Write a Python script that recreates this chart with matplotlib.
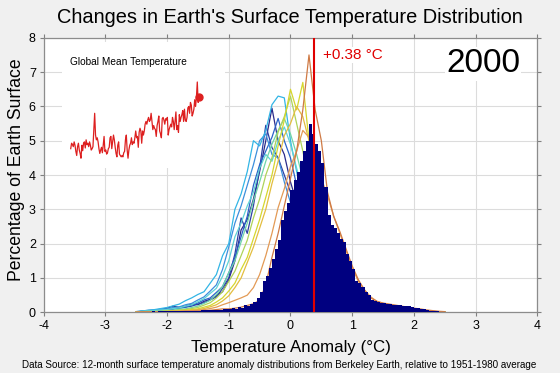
import numpy as np
import matplotlib
matplotlib.use("Agg")
import matplotlib.pyplot as plt

plt.rcParams['font.family'] = ['Liberation Sans', 'DejaVu Sans']
plt.rcParams['axes.unicode_minus'] = False

# ---------------- data ----------------
year_label = "2000"
mean_anomaly = 0.38

# 2000 histogram: 0.05 degC bins starting at -3.00 (percent of surface)
hist_start = -3.0
hist_width = 0.05
hist_2000 = [
    0.005, 0.005, 0.01, 0.005, 0.01, 0.01, 0.01, 0.015, 0.01, 0.015,      # -3.00 .. -2.55
    0.015, 0.02, 0.015, 0.02, 0.02, 0.025, 0.02, 0.025, 0.03, 0.025,      # -2.50 .. -2.05
    0.03, 0.03, 0.035, 0.03, 0.04, 0.035, 0.04, 0.045, 0.04, 0.05,        # -2.00 .. -1.55
    0.05, 0.055, 0.06, 0.06, 0.07, 0.065, 0.075, 0.08, 0.085, 0.09,       # -1.50 .. -1.05
    0.1, 0.12, 0.11, 0.15, 0.14, 0.2, 0.18, 0.25, 0.3, 0.42,              # -1.00 .. -0.55
    0.6, 0.9, 1.05, 1.3, 1.55, 1.85, 2.1, 2.7, 2.95, 3.2,                 # -0.50 .. -0.05
    3.55, 3.85, 4.1, 4.4, 4.7, 5.0, 5.5, 5.2, 4.9, 4.7,                   #  0.00 ..  0.45
    4.35, 3.65, 2.85, 2.55, 2.45, 2.3, 2.15, 2.05, 1.7, 1.5,              #  0.50 ..  0.95
    1.25, 0.9, 0.85, 0.75, 0.6, 0.5, 0.35, 0.32, 0.3, 0.28,               #  1.00 ..  1.45
    0.27, 0.25, 0.24, 0.22, 0.22, 0.2, 0.19, 0.18, 0.17, 0.16,            #  1.50 ..  1.95
    0.14, 0.12, 0.1, 0.09, 0.07, 0.05, 0.04, 0.03, 0.02, 0.015,           #  2.00 ..  2.45
    0.015, 0.01, 0.01, 0.01, 0.01, 0.005, 0.005, 0.005, 0.005, 0.005,     #  2.50 ..  2.95
    0.005, 0.005, 0.0, 0.005, 0.0, 0.0,                                   #  3.00 ..  3.25
]

# earlier years' distributions, sampled every 0.1 degC from -2.5 to 2.5
curve_temps = np.round(np.arange(-2.5, 2.51, 0.1), 2)
curve_1990 = [0.01, 0.03, 0.05, 0.06, 0.09, 0.12, 0.18, 0.14, 0.18, 0.24,
              0.22, 0.32, 0.38, 0.48, 0.6, 0.95, 1.5, 2.4, 2.7, 3.3,
              4.1, 5.0, 5.95, 5.0, 4.6, 3.8, 3.2, 2.7, 2.3, 1.9,
              1.5, 1.2, 0.95, 0.7, 0.55, 0.42, 0.35, 0.28, 0.22, 0.18,
              0.15, 0.12, 0.10, 0.08, 0.07, 0.05, 0.04, 0.03, 0.02, 0.02, 0.01]
curve_1991 = [0.01, 0.03, 0.05, 0.04, 0.07, 0.08, 0.11, 0.12, 0.15, 0.18,
              0.24, 0.28, 0.36, 0.45, 0.7, 1.0, 1.7, 2.75, 2.3, 3.1,
              4.2, 5.45, 4.8, 4.5, 4.0, 3.5, 3.0, 2.5, 2.1, 1.7,
              1.4, 1.1, 0.85, 0.65, 0.5, 0.4, 0.32, 0.26, 0.2, 0.16,
              0.13, 0.11, 0.09, 0.07, 0.06, 0.05, 0.04, 0.03, 0.02, 0.02, 0.01]
curve_1992 = [0.01, 0.02, 0.04, 0.05, 0.05, 0.08, 0.09, 0.13, 0.15, 0.21,
              0.27, 0.36, 0.42, 0.58, 0.75, 1.15, 1.6, 2.2, 2.8, 3.7,
              4.3, 4.7, 5.1, 5.65, 5.0, 4.5, 3.7, 3.1, 2.5, 2.0,
              1.6, 1.25, 0.95, 0.72, 0.55, 0.42, 0.33, 0.26, 0.2, 0.16,
              0.13, 0.1, 0.08, 0.07, 0.05, 0.04, 0.03, 0.03, 0.02, 0.01, 0.01]
curve_1993 = [0.02, 0.04, 0.06, 0.07, 0.09, 0.10, 0.14, 0.16, 0.22, 0.26,
              0.36, 0.45, 0.62, 0.8, 1.25, 1.9, 2.6, 3.1, 3.7, 4.3,
              5.0, 5.2, 4.6, 4.5, 3.8, 3.2, 2.7, 2.2, 1.8, 1.45,
              1.15, 0.9, 0.7, 0.55, 0.42, 0.33, 0.26, 0.2, 0.16, 0.13,
              0.1, 0.08, 0.07, 0.05, 0.04, 0.03, 0.03, 0.02, 0.02, 0.01, 0.01]
curve_1994 = [0.02, 0.04, 0.06, 0.08, 0.11, 0.14, 0.19, 0.24, 0.34, 0.42,
              0.52, 0.6, 0.85, 1.1, 1.65, 2.0, 3.0, 3.45, 4.1, 5.0,
              4.85, 5.3, 6.05, 6.3, 6.25, 5.0, 4.1, 3.2, 2.6, 2.0,
              1.55, 1.2, 0.9, 0.7, 0.55, 0.42, 0.33, 0.26, 0.2, 0.15,
              0.12, 0.1, 0.08, 0.06, 0.05, 0.04, 0.03, 0.02, 0.02, 0.01, 0.01]
curve_1995 = [0.01, 0.03, 0.04, 0.05, 0.07, 0.08, 0.11, 0.13, 0.18, 0.22,
              0.31, 0.4, 0.55, 0.7, 1.05, 1.5, 2.2, 2.6, 3.1, 3.5,
              4.2, 4.6, 4.4, 5.0, 5.4, 4.9, 4.2, 3.5, 2.8, 2.2,
              1.75, 1.35, 1.0, 0.78, 0.6, 0.45, 0.35, 0.27, 0.21, 0.16,
              0.13, 0.1, 0.08, 0.06, 0.05, 0.04, 0.03, 0.02, 0.02, 0.01, 0.01]
curve_1996 = [0.01, 0.02, 0.03, 0.03, 0.04, 0.06, 0.06, 0.09, 0.1, 0.14,
              0.18, 0.26, 0.35, 0.52, 0.75, 1.15, 1.5, 2.05, 2.6, 3.25,
              3.8, 4.4, 4.9, 5.3, 5.65, 5.2, 4.6, 3.9, 3.2, 2.6,
              2.0, 1.55, 1.2, 0.9, 0.68, 0.5, 0.38, 0.3, 0.23, 0.18,
              0.14, 0.11, 0.09, 0.07, 0.05, 0.04, 0.03, 0.02, 0.02, 0.01, 0.01]
curve_1997 = [0.01, 0.01, 0.02, 0.02, 0.03, 0.04, 0.05, 0.07, 0.08, 0.11,
              0.14, 0.21, 0.28, 0.42, 0.6, 0.9, 1.2, 1.65, 2.1, 2.75,
              3.3, 4.0, 4.5, 5.25, 5.7, 6.3, 5.5, 4.7, 3.8, 3.0,
              2.3, 1.8, 1.35, 1.0, 0.75, 0.55, 0.42, 0.32, 0.25, 0.2,
              0.15, 0.12, 0.09, 0.07, 0.05, 0.04, 0.03, 0.02, 0.02, 0.01, 0.01]
curve_1998 = [0.01, 0.01, 0.02, 0.02, 0.02, 0.03, 0.04, 0.05, 0.06, 0.08,
              0.1, 0.15, 0.2, 0.3, 0.42, 0.62, 0.85, 1.25, 1.6, 2.15,
              2.7, 3.35, 4.0, 4.85, 5.6, 6.5, 5.9, 6.7, 5.0, 4.0,
              3.1, 2.4, 1.8, 1.35, 1.0, 0.75, 0.55, 0.42, 0.32, 0.25,
              0.19, 0.15, 0.11, 0.08, 0.06, 0.05, 0.04, 0.03, 0.02, 0.01, 0.01]
curve_1999 = [0.01, 0.01, 0.01, 0.02, 0.02, 0.03, 0.03, 0.04, 0.05, 0.06,
              0.08, 0.11, 0.16, 0.22, 0.33, 0.48, 0.72, 1.0, 1.45, 1.9,
              2.45, 3.0, 3.75, 4.4, 5.15, 5.5, 6.0, 5.7, 5.0, 4.2,
              3.3, 2.5, 1.9, 1.45, 1.1, 0.82, 0.6, 0.45, 0.34, 0.26,
              0.2, 0.15, 0.11, 0.08, 0.06, 0.05, 0.04, 0.03, 0.02, 0.01, 0.01]
curve_1999b = [0.01, 0.01, 0.01, 0.01, 0.02, 0.02, 0.03, 0.03, 0.04, 0.05,
               0.06, 0.08, 0.11, 0.15, 0.22, 0.28, 0.35, 0.42, 0.5, 0.72,
               1.1, 1.65, 2.3, 3.05, 3.6, 4.25, 4.7, 5.3, 5.1, 4.6,
               3.9, 3.4, 2.8, 2.3, 1.8, 1.3, 0.9, 0.65, 0.45, 0.32,
               0.26, 0.22, 0.19, 0.16, 0.13, 0.1, 0.08, 0.05, 0.03, 0.02, 0.01]
curve_2000b = [0.0, 0.01, 0.01, 0.01, 0.01, 0.02, 0.02, 0.02, 0.03, 0.03,
               0.04, 0.05, 0.06, 0.08, 0.1, 0.1, 0.12, 0.15, 0.2, 0.25,
               0.35, 0.8, 1.6, 2.3, 3.1, 3.9, 4.7, 5.9, 7.5, 5.9,
               5.0, 3.5, 2.8, 2.35, 1.85, 1.35, 0.95, 0.65, 0.42, 0.32,
               0.27, 0.24, 0.21, 0.18, 0.15, 0.12, 0.1, 0.07, 0.05, 0.03, 0.02]
curves = [curve_1990, curve_1991, curve_1992, curve_1993, curve_1994, curve_1995,
          curve_1996, curve_1997, curve_1998, curve_1999, curve_1999b, curve_2000b]
curve_colors = ['#2a2a8a', '#2b3fa5', '#2a63c8', '#3c8fdc', '#33b5e5', '#5fd3d6',
                '#6fd6a8', '#aed35a', '#d6d62e', '#e3bd3f', '#e39a55', '#cf7a45']

# global mean temperature anomaly (inset), 1850-2000
gm_years = np.arange(1850, 2001)
gm_temp = [
    -0.38, -0.30, -0.32, -0.35, -0.28, -0.33, -0.42, -0.48, -0.35, -0.30,
    -0.40, -0.45, -0.52, -0.33, -0.41, -0.30, -0.28, -0.37, -0.25, -0.32,
    -0.30, -0.35, -0.28, -0.33, -0.40, -0.38, -0.35, -0.10, 0.14, -0.18,
    -0.25, -0.22, -0.28, -0.38, -0.45, -0.40, -0.36, -0.44, -0.33, -0.20,
    -0.42, -0.40, -0.46, -0.44, -0.38, -0.36, -0.22, -0.20, -0.38, -0.28,
    -0.18, -0.25, -0.36, -0.45, -0.50, -0.33, -0.28, -0.46, -0.48, -0.50,
    -0.48, -0.50, -0.44, -0.42, -0.25, -0.18, -0.40, -0.52, -0.40, -0.33,
    -0.30, -0.22, -0.32, -0.28, -0.30, -0.22, -0.12, -0.22, -0.20, -0.36,
    -0.14, -0.08, -0.12, -0.30, -0.12, -0.18, -0.12, -0.02, 0.02, -0.02,
    0.04, 0.08, 0.02, 0.04, 0.14, 0.02, -0.10, -0.04, -0.08, -0.10,
    -0.20, -0.04, 0.02, 0.10, -0.12, -0.16, -0.22, 0.06, 0.08, 0.04,
    -0.02, 0.06, 0.04, 0.08, -0.18, -0.10, -0.06, -0.02, -0.06, 0.08,
    0.02, -0.10, 0.02, 0.16, -0.10, -0.04, -0.14, 0.12, 0.02, 0.08,
    0.12, 0.18, 0.02, 0.20, 0.04, 0.02, 0.08, 0.22, 0.24, 0.14,
    0.30, 0.26, 0.10, 0.14, 0.20, 0.34, 0.24, 0.38, 0.60, 0.30,
    0.38,
]

# ---------------- figure ----------------
fig = plt.figure(figsize=(5.6, 3.73), dpi=100)
fig.patch.set_facecolor('#f0f0f0')
ax = fig.add_axes([0.0777, 0.1627, 0.882, 0.736])
ax.set_facecolor('white')

for vals, col in zip(curves, curve_colors):
    ax.plot(curve_temps, vals, color=col, lw=0.9, zorder=2)

edges = hist_start + hist_width * np.arange(len(hist_2000))
ax.bar(edges, hist_2000, width=hist_width, align='edge', color='#000080',
       edgecolor='none', linewidth=0, zorder=3)

ax.axvline(mean_anomaly, color='#e00000', lw=1.5, zorder=4)
ax.text(mean_anomaly + 0.15, 7.5, "+%.2f \u00b0C" % mean_anomaly, color='#e00000',
        fontsize=11, ha='left', va='center', zorder=5,
        bbox=dict(facecolor='white', edgecolor='none', pad=1))
ax.text(2.52, 7.24, year_label, fontsize=24, ha='left', va='center', zorder=5,
        bbox=dict(facecolor='white', edgecolor='none', pad=1))

ax.set_xlim(-4, 4)
ax.set_ylim(0, 8)
ax.set_xticks(range(-4, 5))
ax.set_yticks(range(0, 9))
ax.grid(True, color='#dcdcdc', lw=0.8)
ax.set_axisbelow(True)
ax.tick_params(direction='out', length=3, width=0.8, color='#808080',
               labelsize=9, pad=2.5, top=True, right=True)
for s in ax.spines.values():
    s.set_color('#8c8c8c')
    s.set_linewidth(0.9)

fig.text(0.518, 0.952, "Changes in Earth's Surface Temperature Distribution",
         ha='center', va='center', fontsize=14.4)
fig.text(17 / 560, 0.5456, "Percentage of Earth Surface", rotation=90,
         ha='center', va='center', fontsize=12.7)
fig.text(0.52, 0.0697, "Temperature Anomaly (\u00b0C)", ha='center', va='center',
         fontsize=12.2)
fig.text(0.498, 0.0214, "Data Source: 12-month surface temperature anomaly distributions "
         "from Berkeley Earth, relative to 1951-1980 average",
         ha='center', va='center', fontsize=7.1)

# inset
ins = fig.add_axes([62 / 560, 0.5496, 163 / 560, 0.338])
ins.set_facecolor('white')
ins.plot(gm_years, gm_temp, color='#dd2020', lw=0.9)
ins.plot(gm_years[-1], gm_temp[-1], 'o', color='#dd2020', ms=5)
ins.set_xlim(1839.8, 2030.4)
ins.set_ylim(-0.664, 1.189)
ins.set_xticks([])
ins.set_yticks([])
for s in ins.spines.values():
    s.set_visible(False)
ins.text(0.049, 0.841, "Global Mean Temperature", transform=ins.transAxes,
         fontsize=7.25, ha='left', va='center')

fig.savefig("out.png", dpi=100, facecolor=fig.get_facecolor())
